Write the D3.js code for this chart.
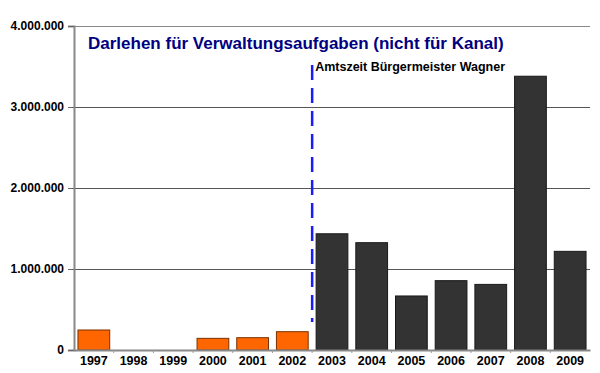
<!DOCTYPE html>
<html lang="de">
<head>
<meta charset="utf-8">
<title>Darlehen für Verwaltungsaufgaben</title>
<style>
    body { margin: 0; background: #fff; }
    svg { display: block; font-family: "Liberation Sans", Arial, sans-serif; }
</style>
</head>
<body>
<script src="https://cdn.jsdelivr.net/npm/d3@7"></script>
<script>
    // data
    var years = ["1997", "1998", "1999", "2000", "2001", "2002", "2003", "2004", "2005", "2006", "2007", "2008", "2009"];
    var amounts = [247000, 0, 0, 144000, 152000, 226000, 1435000, 1325000, 667000, 856000, 810000, 3380000, 1218000];
    var yTicks = [0, 1000000, 2000000, 3000000, 4000000];
    var wagnerStart = "2003";

    var w = 600, h = 373;
    var plotLeft = 74, plotRight = 590, plotTop = 26, plotBottom = 350;

    var svg = d3.select("body").append("svg")
        .attr("width", w)
        .attr("height", h);

    var x = d3.scaleBand()
        .domain(years)
        .range([plotLeft, plotRight])
        .paddingInner(0.2)
        .paddingOuter(0.1);

    var y = d3.scaleLinear()
        .domain([0, 4000000])
        .range([plotBottom, plotTop]);

    var fmt = function(d) {
        return d3.format(",")(d).replace(/,/g, ".");
    };

    // gridlines
    svg.append("g")
        .selectAll("line")
        .data(yTicks.slice(1))
        .enter()
        .append("line")
        .attr("x1", plotLeft)
        .attr("x2", plotRight)
        .attr("y1", function(d) { return y(d) + 0.5; })
        .attr("y2", function(d) { return y(d) + 0.5; })
        .attr("stroke", function(d) { return d == 4000000 ? "#888" : "#555"; })
        .attr("stroke-width", 1);

    // bars
    svg.append("g")
        .selectAll("rect")
        .data(years)
        .enter()
        .append("rect")
        .attr("x", function(d) { return x(d); })
        .attr("width", x.bandwidth())
        .attr("y", function(d, i) { return y(amounts[i]); })
        .attr("height", function(d, i) { return plotBottom - y(amounts[i]); })
        .attr("fill", function(d) { return +d < +wagnerStart ? "#ff6600" : "#333333"; })
        .attr("stroke", function(d) { return +d < +wagnerStart ? "#7a3000" : "#1a1a1a"; })
        .attr("stroke-width", 1)
        .style("display", function(d, i) { return amounts[i] > 0 ? null : "none"; });

    // y axis
    var yAxis = d3.axisLeft(y)
        .tickValues(yTicks)
        .tickSize(6)
        .tickPadding(4)
        .tickFormat(fmt);
    var gy = svg.append("g")
        .attr("transform", "translate(" + plotLeft + ",0)")
        .call(yAxis);
    gy.select(".domain").attr("stroke", "#888").attr("stroke-width", 2);
    gy.selectAll(".tick line").attr("stroke", "#666");
    gy.selectAll("text")
        .attr("font-size", 12)
        .attr("font-weight", "bold")
        .attr("fill", "#000")
        .attr("font-family", "'Liberation Sans', Arial, sans-serif");

    // x axis
    var xAxis = d3.axisBottom(x)
        .tickSize(0)
        .tickPadding(6);
    var gx = svg.append("g")
        .attr("transform", "translate(0," + plotBottom + ")")
        .call(xAxis);
    gx.select(".domain").attr("stroke", "#888").attr("stroke-width", 2);
    gx.selectAll("text")
        .attr("font-size", 12.5)
        .attr("font-weight", "bold")
        .attr("fill", "#000")
        .attr("font-family", "'Liberation Sans', Arial, sans-serif");

    // small separators between categories
    var step = x.step();
    gx.selectAll(".sep")
        .data(years.slice(1))
        .enter()
        .append("line")
        .attr("class", "sep")
        .attr("x1", function(d) { return x(d) - step * 0.1; })
        .attr("x2", function(d) { return x(d) - step * 0.1; })
        .attr("y1", 0)
        .attr("y2", 3)
        .attr("stroke", "#999");

    // dashed marker for start of term
    var mx = x(wagnerStart) - step * 0.1;
    svg.append("line")
        .attr("x1", mx)
        .attr("x2", mx)
        .attr("y1", 65)
        .attr("y2", 322)
        .attr("stroke", "#1a1aff")
        .attr("stroke-width", 2.5)
        .attr("stroke-dasharray", "15,8");

    svg.append("text")
        .attr("x", mx + 3)
        .attr("y", 71)
        .attr("font-size", 12.5)
        .attr("font-weight", "bold")
        .attr("fill", "#000")
        .text("Amtszeit Bürgermeister Wagner");

    // title
    svg.append("text")
        .attr("x", 88)
        .attr("y", 49)
        .attr("font-size", 17)
        .attr("font-weight", "bold")
        .attr("fill", "#000080")
        .text("Darlehen für Verwaltungsaufgaben (nicht für Kanal)");
</script>
</body>
</html>
